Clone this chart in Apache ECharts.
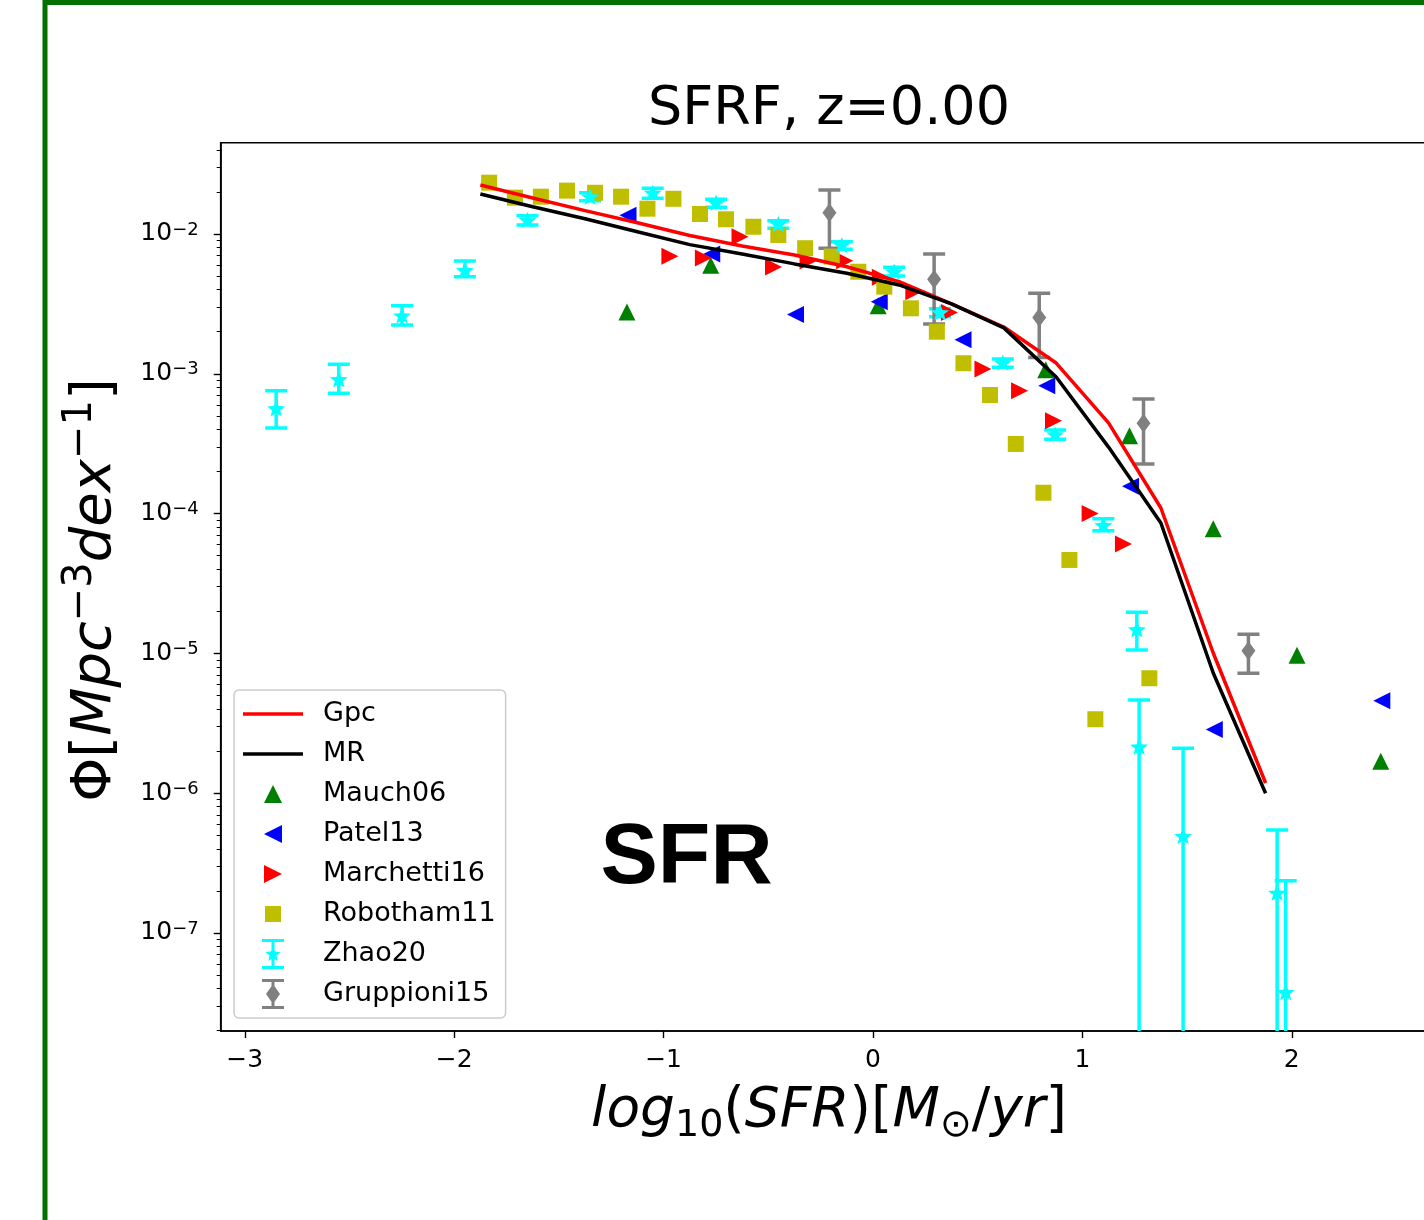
<!DOCTYPE html>
<html>
<head>
<meta charset="utf-8">
<script src="https://cdn.jsdelivr.net/npm/echarts@6/dist/echarts.min.js"></script>
<style>
  html, body { margin: 0; padding: 0; background: #fff; }
  #sfrf { width: 1424px; height: 1220px; }
</style>
</head>
<body>
<div id="sfrf"></div>
<script>
// model curves
const simLogSfr = [-1.875, -1.625, -1.375, -1.125, -0.875, -0.625, -0.375, -0.125, 0.125, 0.375, 0.625, 0.875, 1.125, 1.375, 1.625, 1.875]
const gpcPhi = [0.02239, 0.01811, 0.01469, 0.01202, 0.00975, 0.00820, 0.00708, 0.00583, 0.00456, 0.00316, 0.00216, 0.001194, 4.45e-4, 1.096e-4, 1.007e-5, 1.183e-6]
const mrPhi = [0.01932, 0.01567, 0.01285, 0.01038, 0.00839, 0.00719, 0.00611, 0.00524, 0.00432, 0.00316, 0.00213, 9.48e-4, 2.99e-4, 8.57e-5, 7.24e-6, 1.00e-6]

// observations
const mauchX = [-1.175, -0.775, 0.025, 0.825, 1.225, 1.625, 2.025, 2.425]
const mauchPhi = [0.00277, 0.00597, 0.00307, 0.00107, 3.61e-4, 7.78e-5, 9.68e-6, 1.69e-6]

const patelX = [-1.17, -0.77, -0.37, 0.03, 0.43, 0.83, 1.23, 1.63, 2.43]
const patelPhi = [0.0136, 0.00719, 0.00266, 0.00327, 0.00175, 8.22e-4, 1.57e-4, 2.86e-6, 4.58e-6]

const marchettiX = [-0.97, -0.81, -0.635, -0.475, -0.31, -0.135, 0.035, 0.195, 0.365, 0.525, 0.70, 0.862, 1.037, 1.196]
const marchettiPhi = [0.00692, 0.00673, 0.00957, 0.00581, 0.00641, 0.00644, 0.00490, 0.00386, 0.00274, 0.00108, 7.57e-4, 4.62e-4, 1.00e-4, 6.07e-5]

const robothamX = [-1.833, -1.710, -1.586, -1.461, -1.327, -1.203, -1.077, -0.953, -0.826, -0.702, -0.571, -0.452, -0.324, -0.197, -0.070, 0.054, 0.181, 0.305, 0.432, 0.559, 0.682, 0.814, 0.938, 1.062, 1.320]
const robothamPhi = [0.02328, 0.01820, 0.01849, 0.02042, 0.01972, 0.01849, 0.01517, 0.01786, 0.01390, 0.01274, 0.01127, 0.00984, 0.00791, 0.00689, 0.00537, 0.00420, 0.00294, 0.00200, 0.00119, 7.05e-4, 3.15e-4, 1.41e-4, 4.66e-5, 3.38e-6, 6.64e-6]

const zhaoX = [-2.850, -2.551, -2.249, -1.949, -1.650, -1.351, -1.052, -0.749, -0.452, -0.149, 0.101, 0.320, 0.620, 0.870, 1.100, 1.260, 1.271, 1.481, 1.930, 1.971]
const zhaoPhi = [5.66e-4, 9.14e-4, 2.61e-3, 5.52e-3, 0.01259, 0.01849, 0.01972, 0.01675, 0.01180, 0.00834, 0.00537, 0.002754, 0.001200, 3.69e-4, 8.28e-5, 1.486e-5, 2.15e-6, 4.94e-7, 1.94e-7, 3.77e-8]
const zhaoLo = [4.09e-4, 7.26e-4, 2.23e-3, 4.95e-3, 0.01159, 0.01730, 0.01799, 0.01552, 0.01099, 0.00778, 0.00501, 0.002559, 0.001112, 3.40e-4, 7.55e-5, 1.057e-5, 0, 0, 0, 0]
const zhaoHi = [7.57e-4, 1.17e-3, 3.07e-3, 6.41e-3, 0.01352, 0.01972, 0.02123, 0.01770, 0.01245, 0.00881, 0.00578, 0.002924, 0.001276, 3.96e-4, 9.20e-5, 1.968e-5, 4.65e-6, 2.10e-6, 5.46e-7, 2.36e-7]

const gruppioniX = [-0.208, 0.292, 0.794, 1.292, 1.793]
const gruppioniPhi = [0.01419, 0.00474, 0.00253, 4.43e-4, 1.045e-5]
const gruppioniLo = [0.00791, 0.00227, 0.00131, 2.26e-4, 7.21e-6]
const gruppioniHi = [0.02065, 0.00719, 0.00377, 6.61e-4, 1.371e-5]

// axes
const xTicks = [-3, -2, -1, 0, 1, 2]
const yTicks = [1e-7, 1e-6, 1e-5, 1e-4, 1e-3, 1e-2]
const xMin = -3.115, xMax = 2.695
const yMin = Math.pow(10, -7.701), yMax = Math.pow(10, -1.347)

let yMinor = []
for (let e = -8; e <= -2; e++) {
  for (let k = 2; k <= 9; k++) {
    let v = k * Math.pow(10, e)
    if (v > yMin && v < yMax) yMinor.push(v)
  }
}

const FONT = 'DejaVu Sans'

function zip(xs, ys) { return xs.map((x, i) => [x, ys[i]]) }
function zip4(xs, ys, lo, hi) { return xs.map((x, i) => [x, ys[i], lo[i], hi[i]]) }

function starPath(cx, cy, R) {
  let d = ''
  for (let k = 0; k < 10; k++) {
    let a = -Math.PI / 2 + k * Math.PI / 5
    let r = k % 2 ? R * 0.45 : R
    d += (k ? 'L' : 'M') + (cx + r * Math.cos(a)).toFixed(2) + ' ' + (cy + r * Math.sin(a)).toFixed(2) + ' '
  }
  return d + 'Z '
}
function rectPath(x1, y1, x2, y2) {
  return 'M' + x1 + ' ' + y1 + ' L' + x2 + ' ' + y1 + ' L' + x2 + ' ' + y2 + ' L' + x1 + ' ' + y2 + ' Z '
}

// legend icons live in a 75x30 box, marker centred at (30,15)
const pad = 'M0 0 M75 30 '
const icons = {
  line: 'path://' + pad + rectPath(0, 13.25, 60, 16.75),
  up: 'path://' + pad + 'M30 6 L39 24 L21 24 Z',
  left: 'path://' + pad + 'M21 15 L39 6 L39 24 Z',
  right: 'path://' + pad + 'M39 15 L21 6 L21 24 Z',
  square: 'path://' + pad + rectPath(22, 7, 38, 23),
  zhao: 'path://' + pad + rectPath(19, 0, 41, 3) + rectPath(19, 27, 41, 30) + rectPath(28.5, 1, 31.5, 29) + starPath(30, 15.5, 8),
  grupp: 'path://' + pad + rectPath(19, 0, 41, 3) + rectPath(19, 27, 41, 30) + rectPath(28.5, 1, 31.5, 29) + 'M30 5 L37 15 L30 25 L23 15 Z'
}

function errorBars(color, width) {
  return function (params, api) {
    let x = api.value(0)
    let lo = api.value(2), hi = api.value(3)
    let top = api.coord([x, hi])
    let bot = api.coord([x, lo > 0 ? lo : yMin])
    let st = { stroke: color, lineWidth: width }
    let kids = [
      { type: 'line', shape: { x1: top[0], y1: top[1], x2: bot[0], y2: bot[1] }, style: st },
      { type: 'line', shape: { x1: top[0] - 11, y1: top[1], x2: top[0] + 11, y2: top[1] }, style: st }
    ]
    if (lo > 0) kids.push({ type: 'line', shape: { x1: bot[0] - 11, y1: bot[1], x2: bot[0] + 11, y2: bot[1] }, style: st })
    return { type: 'group', children: kids }
  }
}

let chart = echarts.init(document.getElementById('sfrf'))

let option = {
  animation: false,
  backgroundColor: '#fff',
  title: {
    text: 'SFRF, z=0.00',
    left: 829, top: 83, textAlign: 'center', padding: 0,
    textStyle: { fontFamily: FONT, fontSize: 54, fontWeight: 'normal', color: '#000' }
  },
  grid: {
    left: 220.7, top: 142.7, right: -13.3, bottom: 189,
    show: true, borderColor: '#000', borderWidth: 1.6,
    containLabel: false, outerBoundsMode: 'none'
  },
  legend: {
    orient: 'vertical', left: 234, top: 690,
    padding: [4, 10, 4, 9], itemGap: 0,
    itemWidth: 75, itemHeight: 30,
    symbolRotate: 0,
    selectedMode: false,
    backgroundColor: 'rgba(255,255,255,0.8)',
    borderColor: '#cccccc', borderWidth: 1.5, borderRadius: 5,
    textStyle: { fontFamily: FONT, fontSize: 27, color: '#000', lineHeight: 40 },
    data: [
      { name: 'Gpc', icon: icons.line, itemStyle: { color: '#ff0000', borderWidth: 0 } },
      { name: 'MR', icon: icons.line, itemStyle: { color: '#000000', borderWidth: 0 } },
      { name: 'Mauch06', icon: icons.up, itemStyle: { color: '#008000', borderWidth: 0 } },
      { name: 'Patel13', icon: icons.left, itemStyle: { color: '#0000ff', borderWidth: 0 } },
      { name: 'Marchetti16', icon: icons.right, itemStyle: { color: '#ff0000', borderWidth: 0 } },
      { name: 'Robotham11', icon: icons.square, itemStyle: { color: '#bfbf00', borderWidth: 0 } },
      { name: 'Zhao20', icon: icons.zhao, itemStyle: { color: '#00ffff', borderWidth: 0 } },
      { name: 'Gruppioni15', icon: icons.grupp, itemStyle: { color: '#808080', borderWidth: 0 } }
    ]
  },
  xAxis: {
    type: 'value', min: xMin, max: xMax,
    axisLine: { show: true, onZero: false, lineStyle: { color: '#000', width: 1.6 } },
    axisTick: { show: true, length: 7, customValues: xTicks, lineStyle: { color: '#000', width: 1.4 } },
    axisLabel: {
      customValues: xTicks, margin: 17,
      fontFamily: FONT, fontSize: 25, color: '#000',
      formatter: v => (v < 0 ? '\u2212' + (-v) : String(v))
    },
    splitLine: { show: false }
  },
  yAxis: [{
    type: 'log', min: yMin, max: yMax, position: 'left',
    axisLine: { show: true, onZero: false, lineStyle: { color: '#000', width: 1.6 } },
    axisTick: { show: true, length: 7, customValues: yTicks, lineStyle: { color: '#000', width: 1.4 } },
    axisLabel: {
      customValues: yTicks, margin: 22, color: '#000',
      formatter: v => '{b|10}{s|\u2212' + Math.round(-Math.log10(v)) + '}',
      rich: {
        b: { fontFamily: FONT, fontSize: 25, lineHeight: 26, color: '#000' },
        s: { fontFamily: FONT, fontSize: 18, lineHeight: 18, verticalAlign: 'top', color: '#000' }
      }
    },
    splitLine: { show: false }
  }, {
    type: 'log', min: yMin, max: yMax, position: 'left',
    axisLine: { show: false, onZero: false },
    axisTick: { show: true, length: 4, customValues: yMinor, lineStyle: { color: '#000', width: 1 } },
    axisLabel: { show: false },
    splitLine: { show: false }
  }],
  graphic: [
    {
      type: 'rect', z: 100, silent: true,
      shape: { x: 45, y: 2.5, width: 2000, height: 2000 },
      style: { fill: 'none', stroke: '#007000', lineWidth: 5 }
    },
    {
      type: 'text', x: 686.5, y: 859, z: 50,
      style: {
        text: 'SFR', fill: '#000', align: 'center', verticalAlign: 'middle',
        font: 'bold 86px "Liberation Sans"'
      }
    },
    {
      type: 'text', x: 829, y: 1112, z: 50,
      style: {
        text: '{i|log}{d|10}{u|(}{i|SFR}{u|)[}{i|M}{d|\u2299}{u|/}{i|yr}{u|]}',
        align: 'center', verticalAlign: 'middle',
        rich: {
          i: { fontFamily: FONT, fontStyle: 'italic', fontSize: 55, lineHeight: 66, fill: '#000' },
          u: { fontFamily: FONT, fontSize: 55, lineHeight: 66, fill: '#000' },
          d: { fontFamily: FONT, fontSize: 38, lineHeight: 40, verticalAlign: 'bottom', fill: '#000' }
        }
      }
    },
    {
      type: 'text', x: 95, y: 590, rotation: Math.PI / 2, z: 50,
      style: {
        text: '{u|\u03a6[}{i|Mpc}{p|\u22123}{i|dex}{p|\u22121}{u|]}',
        align: 'center', verticalAlign: 'middle',
        rich: {
          i: { fontFamily: FONT, fontStyle: 'italic', fontSize: 56, lineHeight: 68, fill: '#000' },
          u: { fontFamily: FONT, fontSize: 56, lineHeight: 68, fill: '#000' },
          p: { fontFamily: FONT, fontSize: 40, lineHeight: 42, verticalAlign: 'top', fill: '#000' }
        }
      }
    }
  ],
  series: [
    {
      name: 'Gpc', type: 'line', data: zip(simLogSfr, gpcPhi),
      symbol: 'none', showSymbol: false, color: '#ff0000',
      lineStyle: { color: '#ff0000', width: 3.5 }
    },
    {
      name: 'MR', type: 'line', data: zip(simLogSfr, mrPhi),
      symbol: 'none', showSymbol: false, color: '#000000',
      lineStyle: { color: '#000000', width: 3.5 }
    },
    {
      name: 'Mauch06', type: 'scatter', data: zip(mauchX, mauchPhi),
      symbol: 'triangle', symbolSize: 17,
      itemStyle: { color: '#008000', opacity: 1 }
    },
    {
      name: 'Patel13', type: 'scatter', data: zip(patelX, patelPhi),
      symbol: 'triangle', symbolSize: 17, symbolRotate: 90,
      itemStyle: { color: '#0000ff', opacity: 1 }
    },
    {
      name: 'Marchetti16', type: 'scatter', data: zip(marchettiX, marchettiPhi),
      symbol: 'triangle', symbolSize: 17, symbolRotate: -90,
      itemStyle: { color: '#ff0000', opacity: 1 }
    },
    {
      name: 'Robotham11', type: 'scatter', data: zip(robothamX, robothamPhi),
      symbol: 'rect', symbolSize: 16,
      itemStyle: { color: '#bfbf00', opacity: 1 }
    },
    {
      name: 'Zhao20', type: 'custom', clip: true,
      data: zip4(zhaoX, zhaoPhi, zhaoLo, zhaoHi),
      encode: { x: 0, y: 1 },
      renderItem: errorBars('#00ffff', 3.5),
      itemStyle: { color: '#00ffff' }
    },
    {
      name: 'Zhao20', type: 'scatter', data: zip(zhaoX, zhaoPhi),
      symbol: 'path://' + starPath(10, 10, 10), symbolSize: [18, 16],
      itemStyle: { color: '#00ffff', opacity: 1 }
    },
    {
      name: 'Gruppioni15', type: 'custom', clip: true,
      data: zip4(gruppioniX, gruppioniPhi, gruppioniLo, gruppioniHi),
      encode: { x: 0, y: 1 },
      renderItem: errorBars('#808080', 3.5),
      itemStyle: { color: '#808080' }
    },
    {
      name: 'Gruppioni15', type: 'scatter', data: zip(gruppioniX, gruppioniPhi),
      symbol: 'diamond', symbolSize: [14, 19],
      itemStyle: { color: '#808080', opacity: 1 }
    }
  ]
}

chart.setOption(option)
window.addEventListener('resize', () => chart.resize())
</script>
</body>
</html>
